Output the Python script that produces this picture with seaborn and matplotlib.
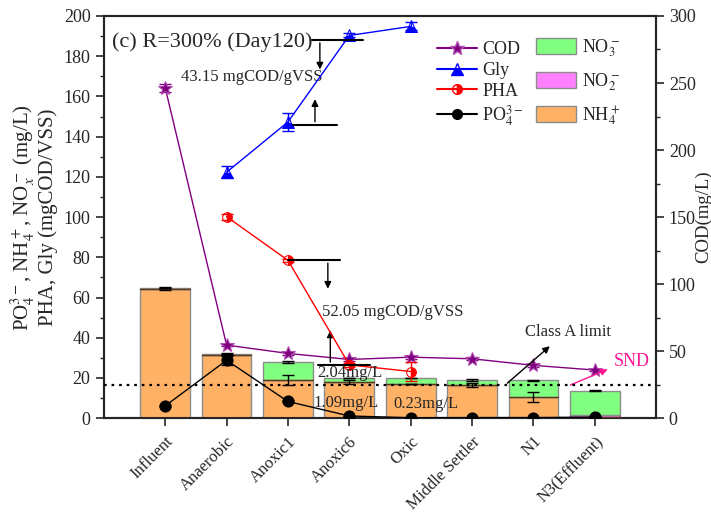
"""
Profil des especes azotees, PO4, PHA, Gly et COD le long de la filiere (R=300%, jour 120).
"""

import numpy as np
import matplotlib
matplotlib.use("Agg")
import matplotlib.pyplot as plt
from matplotlib.lines import Line2D
from matplotlib.patches import Patch
import seaborn as sns

# Donnees
etapes = ["Influent", "Anaerobic", "Anoxic1", "Anoxic6", "Oxic",
          "Middle Settler", "N1", "N3(Effluent)"]
nh4 = [64.3, 31.5, 18.8, 17.8, 17.2, 16.5, 10.3, 0.6]
nh4_err = [0.8, 0.5, 2.5, 1.0, 0.0, 0.8, 2.5, 0.0]
no2 = [0.0, 0.0, 0.0, 0.0, 0.0, 0.0, 0.3, 1.2]
no3 = [0.4, 0.5, 9.3, 2.3, 2.6, 2.6, 8.3, 11.8]
tot_err = [0.0, 0.5, 0.5, 0.0, 0.0, 0.5, 0.3, 0.3]

po4 = [6.1, 28.8, 8.3, 1.09, 0.23, 0.3, 0.3, 0.5]
po4_err = [0.3, 2.5, 0.5, 0.2, 0.1, 0.1, 0.1, 0.1]

cod = [246.5, 54.5, 48.3, 43.8, 45.5, 44.3, 39.4, 35.9]
cod_err = [3.0, 1.0, 1.0, 1.0, 1.0, 1.0, 1.0, 1.0]

x_bio = [1, 2, 3, 4]
gly = [122.3, 147.3, 190.3, 194.8]
gly_err = [3.0, 4.5, 1.0, 2.0]
pha = [100.2, 78.5, 26.5, 23.2]
pha_err = [1.5, 0.8, 1.0, 4.5]

limite_classe_a = 16.5

C_NH4 = "#FFB266"
C_NO2 = "#FF80FF"
C_NO3 = "#80FF80"


def generer_graphique():
    sns.set_style("ticks")
    plt.rcParams["font.family"] = ["Liberation Serif", "DejaVu Serif"]
    plt.rcParams["mathtext.fontset"] = "stix"

    fig = plt.figure(figsize=(7.11, 5.15), dpi=100)
    ax = fig.add_axes([0.146, 0.188, 0.777, 0.781])
    ax2 = ax.twinx()

    x = np.arange(len(etapes))
    w = 0.81
    nh4_a = np.array(nh4)
    no2_a = np.array(no2)
    no3_a = np.array(no3)

    # Barres empilees
    ax.bar(x, nh4_a, w, color=C_NH4, edgecolor="#8c8c8c", linewidth=1, zorder=2)
    ax.bar(x, no2_a, w, bottom=nh4_a, color=C_NO2, edgecolor="#7a3b7a", linewidth=0.8, zorder=2)
    ax.bar(x, no3_a, w, bottom=nh4_a + no2_a, color=C_NO3, edgecolor="#8c8c8c", linewidth=1, zorder=2)
    ax.plot([x - w / 2, x + w / 2], [nh4_a, nh4_a], color="#5a3a1a", lw=1, zorder=3)
    ax.errorbar(x, nh4_a, yerr=nh4_err, fmt="none", ecolor="black", capsize=4, lw=1, zorder=4)
    ax.errorbar(x, nh4_a + no2_a + no3_a, yerr=tot_err, fmt="none", ecolor="black",
                capsize=4, lw=1, zorder=4)

    # Seuil classe A
    ax.axhline(limite_classe_a, color="black", ls=(0, (1.2, 2.2)), lw=1.6, zorder=5)

    # Series
    sns.lineplot(x=x_bio, y=gly, ax=ax, color="blue", lw=1, marker="^", markersize=8,
                 fillstyle="bottom", markeredgecolor="blue", zorder=6)
    ax.errorbar(x_bio, gly, yerr=gly_err, fmt="none", ecolor="blue", capsize=4, lw=1, zorder=6)
    sns.lineplot(x=x_bio, y=pha, ax=ax, color="red", lw=1, marker="o", markersize=7,
                 fillstyle="right", markeredgecolor="red", zorder=6)
    ax.errorbar(x_bio, pha, yerr=pha_err, fmt="none", ecolor="red", capsize=4, lw=1, zorder=6)
    sns.lineplot(x=x, y=po4, ax=ax, color="black", lw=1, marker="o", markersize=8,
                 markeredgecolor="black", zorder=7)
    ax.errorbar(x, po4, yerr=po4_err, fmt="none", ecolor="black", capsize=4, lw=1, zorder=7)

    sns.lineplot(x=x, y=cod, ax=ax2, color="#800080", lw=1, marker="*", markersize=10,
                 markeredgecolor="#b04fb0", zorder=6)
    ax2.errorbar(x, cod, yerr=cod_err, fmt="none", ecolor="#800080", capsize=4, lw=1)

    # Axes
    ax.set_xlim(-1, 8)
    ax.set_ylim(0, 200)
    ax2.set_ylim(0, 300)
    ax.set_xticks(x)
    ax.set_xticklabels(etapes, rotation=45, ha="right", rotation_mode="anchor", fontsize=12)
    ax.set_yticks(np.arange(0, 201, 20))
    ax.set_yticks(np.arange(0, 201, 10), minor=True)
    ax2.set_yticks(np.arange(0, 301, 50))
    ax2.set_yticks(np.arange(0, 301, 25), minor=True)
    ax.tick_params(axis="y", labelsize=13, length=6, width=1.2)
    ax.tick_params(axis="y", which="minor", length=3, width=1)
    ax.tick_params(axis="x", length=6, width=1.2, pad=5)
    ax2.tick_params(axis="y", labelsize=13, length=6, width=1.2, pad=3)
    ax2.tick_params(axis="y", which="minor", length=3, width=1)
    for a in (ax, ax2):
        for s in a.spines.values():
            s.set_linewidth(1.5)
            s.set_visible(True)

    ax.set_ylabel("PO$_4^{3-}$, NH$_4^+$, NO$_x^-$ (mg/L)\nPHA, Gly (mgCOD/VSS)",
                  fontsize=15, labelpad=4, linespacing=1.1)
    ax2.set_ylabel("COD(mg/L)", fontsize=13.5, rotation=90, va="center")
    ax2.yaxis.set_label_coords(1.085, 0.5)

    # Annotations
    ax.text(-0.86, 187, "(c) R=300% (Day120)", fontsize=16, va="center")
    fl = dict(arrowstyle="-|>", color="black", lw=1, mutation_scale=10)
    ax.plot([2.39, 3.22], [188, 188], color="black", lw=1.5, zorder=8)
    ax.annotate("", xy=(2.52, 172), xytext=(2.52, 188), arrowprops=fl)
    ax.plot([2.08, 2.80], [146, 146], color="black", lw=1.5, zorder=8)
    ax.annotate("", xy=(2.44, 160), xytext=(2.44, 146), arrowprops=fl)
    ax.text(0.26, 169.5, "43.15 mgCOD/gVSS", fontsize=12, va="center")

    ax.plot([2.0, 2.85], [78.5, 78.5], color="black", lw=1.5, zorder=8)
    ax.annotate("", xy=(2.65, 63), xytext=(2.65, 78.5), arrowprops=fl)
    ax.plot([2.49, 3.34], [26.5, 26.5], color="black", lw=1.5, zorder=8)
    ax.annotate("", xy=(2.69, 45), xytext=(2.69, 26.5), arrowprops=fl)
    ax.text(2.56, 53, "52.05 mgCOD/gVSS", fontsize=12, va="center")

    ax.text(2.48, 22.5, "2.04mg/L", fontsize=12, va="center", zorder=9)
    ax.text(2.41, 7.5, "1.09mg/L", fontsize=12, va="center", zorder=9)
    ax.text(3.71, 7, "0.23mg/L", fontsize=12, va="center", zorder=9)

    ax.text(5.86, 43, "Class A limit", fontsize=12, va="center")
    ax.annotate("", xy=(6.30, 36.7), xytext=(5.54, 16.5), arrowprops=fl)
    ax.text(7.31, 28, "SND", fontsize=13, va="center", color="#FF1493")
    ax.annotate("", xy=(7.25, 24.8), xytext=(6.56, 16),
                arrowprops=dict(arrowstyle="-|>", color="#FF1493", lw=1, mutation_scale=10))

    # Legendes
    poignees = [
        Line2D([], [], color="#800080", marker="*", markersize=10, markeredgecolor="#b04fb0"),
        Line2D([], [], color="blue", marker="^", markersize=8, fillstyle="bottom"),
        Line2D([], [], color="red", marker="o", markersize=7, fillstyle="right"),
        Line2D([], [], color="black", marker="o", markersize=7),
    ]
    leg1 = ax.legend(poignees, ["COD", "Gly", "PHA", "PO$_4^{3-}$"], loc="upper left",
                     bbox_to_anchor=(0.59, 0.955), frameon=False, fontsize=13,
                     handlelength=2.2, handletextpad=0.3, labelspacing=0.2, borderaxespad=0)
    leg1.set_zorder(10)
    ax.add_artist(leg1)
    patchs = [Patch(facecolor=C_NO3, edgecolor="#8c8c8c"),
              Patch(facecolor=C_NO2, edgecolor="#8c8c8c"),
              Patch(facecolor=C_NH4, edgecolor="#8c8c8c")]
    leg2 = ax.legend(patchs, ["NO$_3^-$", "NO$_2^-$", "NH$_4^+$"], loc="upper left",
                     bbox_to_anchor=(0.77, 0.965), frameon=False, fontsize=13,
                     handlelength=2.2, handleheight=1.0, handletextpad=0.3,
                     labelspacing=0.65, borderaxespad=0)
    leg2.set_zorder(10)

    ax.set_zorder(ax2.get_zorder() + 1)
    ax.patch.set_visible(False)

    fig.savefig("out.png", dpi=100)
    plt.close(fig)


def main():
    generer_graphique()


if __name__ == "__main__":
    main()
